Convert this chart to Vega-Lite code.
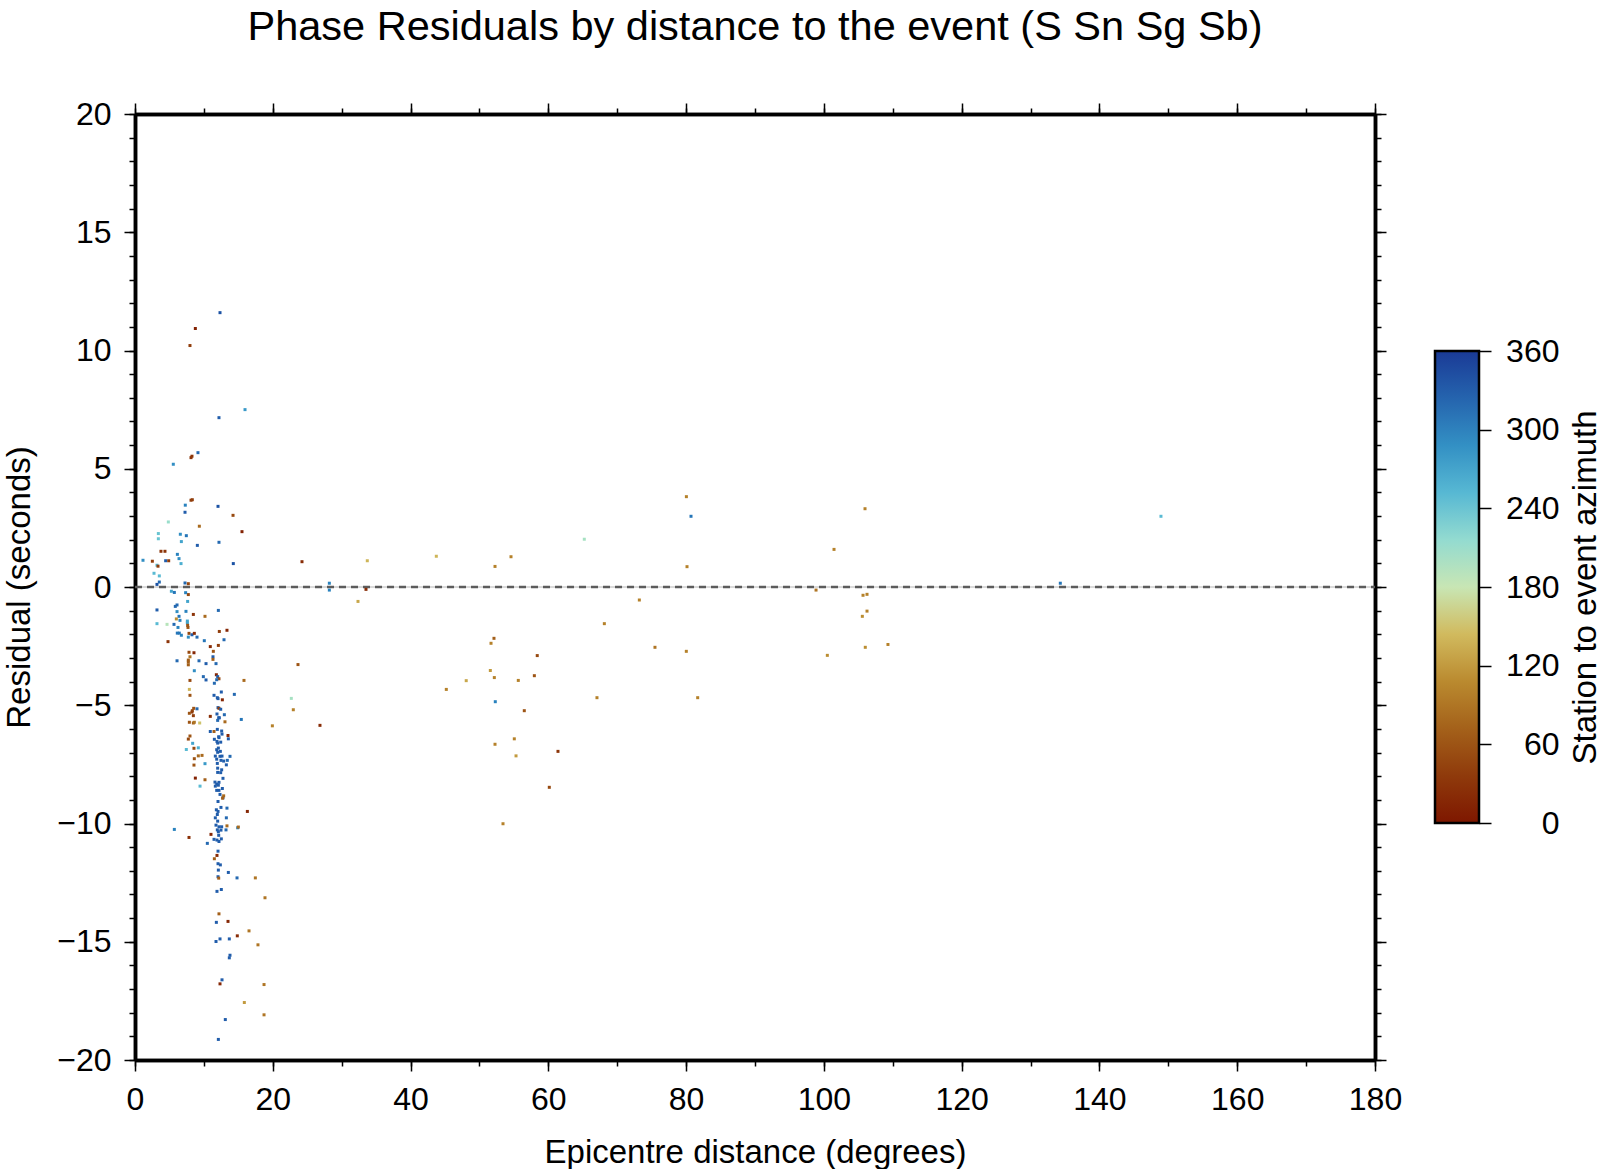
{
  "$schema": "https://vega.github.io/schema/vega-lite/v6.json",
  "background": "white",
  "padding": {"left": 3, "top": 6, "right": 0, "bottom": 0},
  "spacing": 31,
  "config": {
    "view": {"stroke": null},
    "font": "Liberation Sans",
    "axis": {
      "labelFont": "Liberation Sans",
      "titleFont": "Liberation Sans",
      "labelColor": "black",
      "titleColor": "black",
      "domainColor": "black",
      "tickColor": "black",
      "grid": false,
      "titleFontWeight": "normal",
      "labelFontSize": 32,
      "titleFontSize": 33,
      "tickWidth": 1.5,
      "domainWidth": 3.5,
      "labelOverlap": false,
      "labelFlush": false
    }
  },
  "hconcat": [
    {
      "width": 1240,
      "height": 946,
      "title": {"text": "Phase Residuals by distance to the event (S Sn Sg Sb)", "fontSize": 41.5, "fontWeight": "normal", "font": "Liberation Sans", "color": "black", "anchor": "middle", "offset": 50},
      "resolve": {"axis": {"x": "independent", "y": "independent"}},
      "layer": [
        {
          "data": {"values": [{}]},
          "mark": {"type": "rule", "color": "#b4b4b4", "strokeWidth": 1},
          "encoding": {
            "x": {"datum": 0, "type": "quantitative", "scale": {"domain": [0, 180], "nice": false, "zero": false},
              "axis": {"orient": "bottom", "values": [0,10,20,30,40,50,60,70,80,90,100,110,120,130,140,150,160,170,180], "tickSize": 6, "labels": false, "title": null}},
            "x2": {"datum": 180},
            "y": {"datum": 0, "type": "quantitative", "scale": {"domain": [-20, 20], "nice": false, "zero": false},
              "axis": {"orient": "left", "values": [-20,-19,-18,-17,-16,-15,-14,-13,-12,-11,-10,-9,-8,-7,-6,-5,-4,-3,-2,-1,0,1,2,3,4,5,6,7,8,9,10,11,12,13,14,15,16,17,18,19,20], "tickSize": 6, "labels": false, "title": null}}
          }
        },
        {
          "data": {"values": [{}]},
          "mark": {"type": "rule", "color": "#5c5c5c", "strokeWidth": 2.5, "strokeDash": [7, 5]},
          "encoding": {
            "x": {"datum": 0, "type": "quantitative",
              "axis": {"orient": "top", "values": [0,20,40,60,80,100,120,140,160,180], "tickSize": 11, "labels": false, "title": null}},
            "x2": {"datum": 180},
            "y": {"datum": 0, "type": "quantitative",
              "axis": {"orient": "right", "values": [-20,-15,-10,-5,0,5,10,15,20], "tickSize": 11, "labels": false, "title": null}}
          }
        },
        {
          "data": {"values": [{}]},
          "mark": {"type": "rule", "opacity": 0},
          "encoding": {
            "x": {"datum": 0, "type": "quantitative",
              "axis": {"orient": "top", "values": [0,10,20,30,40,50,60,70,80,90,100,110,120,130,140,150,160,170,180], "tickSize": 6, "labels": false, "title": null}},
            "x2": {"datum": 180},
            "y": {"datum": 0, "type": "quantitative",
              "axis": {"orient": "right", "values": [-20,-19,-18,-17,-16,-15,-14,-13,-12,-11,-10,-9,-8,-7,-6,-5,-4,-3,-2,-1,0,1,2,3,4,5,6,7,8,9,10,11,12,13,14,15,16,17,18,19,20], "tickSize": 6, "labels": false, "title": null}}
          }
        },
        {
          "data": {"values": [
            {"dist":12.34,"res":11.60,"az":340},{"dist":8.76,"res":10.93,"az":10},{"dist":7.98,"res":10.21,"az":40},{"dist":15.97,"res":7.50,"az":280},{"dist":12.19,"res":7.16,"az":330},{"dist":9.14,"res":5.68,"az":320},{"dist":8.13,"res":5.47,"az":30},{"dist":8.27,"res":5.53,"az":30},{"dist":5.56,"res":5.19,"az":290},{"dist":8.13,"res":3.67,"az":40},{"dist":8.32,"res":3.69,"az":40},{"dist":7.30,"res":3.46,"az":300},{"dist":7.26,"res":3.16,"az":330},{"dist":12.05,"res":3.41,"az":340},{"dist":14.23,"res":3.03,"az":50},{"dist":4.84,"res":2.75,"az":210},{"dist":9.34,"res":2.57,"az":80},{"dist":15.53,"res":2.34,"az":10},{"dist":3.39,"res":2.26,"az":240},{"dist":6.58,"res":2.23,"az":290},{"dist":7.45,"res":2.17,"az":310},{"dist":3.39,"res":2.04,"az":240},{"dist":6.73,"res":1.92,"az":270},{"dist":12.19,"res":1.89,"az":320},{"dist":9.05,"res":1.76,"az":330},{"dist":3.77,"res":1.51,"az":30},{"dist":4.35,"res":1.51,"az":30},{"dist":6.15,"res":1.38,"az":300},{"dist":1.16,"res":1.13,"az":290},{"dist":2.52,"res":1.09,"az":40},{"dist":4.45,"res":1.11,"az":330},{"dist":4.89,"res":1.11,"az":40},{"dist":6.39,"res":1.20,"az":290},{"dist":14.27,"res":0.99,"az":340},{"dist":3.19,"res":0.92,"az":250},{"dist":3.34,"res":0.88,"az":40},{"dist":6.68,"res":0.99,"az":260},{"dist":2.76,"res":0.58,"az":250},{"dist":3.53,"res":0.47,"az":250},{"dist":3.53,"res":0.21,"az":320},{"dist":3.19,"res":0.11,"az":340},{"dist":7.26,"res":0.17,"az":320},{"dist":7.74,"res":0.14,"az":50},{"dist":5.28,"res":-0.18,"az":270},{"dist":5.71,"res":-0.23,"az":310},{"dist":7.74,"res":-0.32,"az":50},{"dist":7.64,"res":-0.61,"az":270},{"dist":7.35,"res":-0.24,"az":300},
            {"dist":5.85,"res":-0.82,"az":320},{"dist":6.10,"res":-0.76,"az":320},{"dist":3.19,"res":-0.97,"az":330},{"dist":7.40,"res":-1.03,"az":300},{"dist":12.10,"res":-0.99,"az":320},{"dist":8.47,"res":-1.16,"az":30},{"dist":10.16,"res":-1.24,"az":80},{"dist":6.10,"res":-1.04,"az":290},{"dist":6.39,"res":-1.24,"az":310},{"dist":6.53,"res":-1.41,"az":300},{"dist":3.19,"res":-1.55,"az":250},{"dist":4.65,"res":-1.58,"az":190},{"dist":6.00,"res":-1.35,"az":110},{"dist":7.60,"res":-1.44,"az":270},{"dist":7.60,"res":-1.52,"az":270},{"dist":5.66,"res":-1.58,"az":320},{"dist":7.64,"res":-1.62,"az":60},{"dist":7.69,"res":-1.71,"az":60},{"dist":6.24,"res":-1.71,"az":300},{"dist":12.24,"res":-1.88,"az":40},{"dist":13.35,"res":-1.83,"az":15},{"dist":6.14,"res":-1.95,"az":310},{"dist":6.43,"res":-1.95,"az":310},{"dist":6.73,"res":-2.04,"az":300},{"dist":7.84,"res":-1.96,"az":50},{"dist":8.27,"res":-2.02,"az":330},{"dist":8.61,"res":-1.96,"az":20},{"dist":9.00,"res":-2.12,"az":320},{"dist":7.74,"res":-2.12,"az":290},{"dist":12.92,"res":-2.23,"az":320},{"dist":4.79,"res":-2.31,"az":30},{"dist":10.06,"res":-2.27,"az":310},{"dist":10.93,"res":-2.52,"az":20},{"dist":12.10,"res":-2.47,"az":40},{"dist":11.37,"res":-2.72,"az":60},{"dist":7.84,"res":-2.76,"az":50},{"dist":8.56,"res":-2.78,"az":15},{"dist":11.32,"res":-2.95,"az":330},{"dist":7.98,"res":-2.95,"az":90},{"dist":11.32,"res":-3.06,"az":70},{"dist":7.74,"res":-3.09,"az":70},{"dist":7.74,"res":-3.17,"az":70},{"dist":7.74,"res":-3.29,"az":70},{"dist":6.10,"res":-3.12,"az":320},{"dist":9.29,"res":-3.12,"az":320},{"dist":10.31,"res":-3.24,"az":330},{"dist":11.76,"res":-3.24,"az":320},{"dist":8.61,"res":-3.54,"az":290},{"dist":9.92,"res":-3.79,"az":320},{"dist":10.31,"res":-3.93,"az":330},{"dist":11.81,"res":-3.71,"az":15},{"dist":12.00,"res":-3.79,"az":330},{"dist":12.19,"res":-3.88,"az":50},{"dist":11.86,"res":-3.92,"az":320},{"dist":11.52,"res":-4.07,"az":320},{"dist":15.82,"res":-3.95,"az":80},{"dist":7.98,"res":-3.95,"az":50},{"dist":7.89,"res":-4.33,"az":140},{"dist":7.98,"res":-4.58,"az":60},{"dist":12.53,"res":-4.44,"az":330},{"dist":14.42,"res":-4.54,"az":320},{"dist":11.47,"res":-4.58,"az":330},{"dist":11.95,"res":-4.68,"az":330},{"dist":12.05,"res":-4.72,"az":330},{"dist":12.68,"res":-4.77,"az":15},{"dist":12.05,"res":-5.10,"az":330},{"dist":12.19,"res":-5.13,"az":40},{"dist":12.44,"res":-5.17,"az":330},{"dist":9.00,"res":-5.15,"az":320},{"dist":8.52,"res":-5.13,"az":60},{"dist":8.32,"res":-5.23,"az":50},{"dist":8.27,"res":-5.29,"az":40},{"dist":7.89,"res":-5.34,"az":60},{"dist":8.47,"res":-5.44,"az":40},{"dist":12.97,"res":-5.40,"az":320},{"dist":10.93,"res":-5.47,"az":25},{"dist":12.15,"res":-5.53,"az":330},{"dist":12.00,"res":-5.64,"az":320},{"dist":15.43,"res":-5.60,"az":310},{"dist":7.89,"res":-5.72,"az":60},{"dist":8.47,"res":-5.75,"az":70},{"dist":8.61,"res":-5.72,"az":90},{"dist":9.39,"res":-5.75,"az":150},{"dist":13.06,"res":-5.70,"az":80},{"dist":19.94,"res":-5.87,"az":100},{"dist":10.93,"res":-6.11,"az":330},{"dist":11.47,"res":-6.11,"az":70},{"dist":11.90,"res":-5.37,"az":330},{"dist":12.24,"res":-5.53,"az":330},
            {"dist":11.95,"res":-6.02,"az":330},{"dist":12.58,"res":-6.09,"az":330},{"dist":12.63,"res":-6.22,"az":330},{"dist":12.15,"res":-6.33,"az":330},{"dist":13.50,"res":-6.28,"az":15},{"dist":13.55,"res":-6.42,"az":330},{"dist":11.52,"res":-6.44,"az":330},{"dist":11.90,"res":-6.53,"az":330},{"dist":12.19,"res":-6.37,"az":330},{"dist":12.44,"res":-6.56,"az":330},{"dist":12.00,"res":-6.60,"az":330},{"dist":7.98,"res":-6.30,"az":60},{"dist":7.74,"res":-6.43,"az":50},{"dist":8.37,"res":-6.61,"az":270},{"dist":9.19,"res":-6.80,"az":260},{"dist":7.45,"res":-6.87,"az":250},{"dist":8.56,"res":-6.82,"az":50},{"dist":12.10,"res":-6.81,"az":330},{"dist":12.39,"res":-6.95,"az":330},{"dist":11.86,"res":-6.88,"az":330},{"dist":12.00,"res":-6.99,"az":330},{"dist":9.19,"res":-7.14,"az":80},{"dist":9.73,"res":-7.12,"az":80},{"dist":8.61,"res":-7.26,"az":60},{"dist":11.66,"res":-7.15,"az":330},{"dist":12.34,"res":-7.16,"az":330},{"dist":12.63,"res":-7.15,"az":330},{"dist":13.79,"res":-7.16,"az":320},{"dist":11.86,"res":-7.28,"az":330},{"dist":12.48,"res":-7.33,"az":330},{"dist":12.87,"res":-7.36,"az":330},{"dist":13.40,"res":-7.33,"az":320},{"dist":10.16,"res":-7.47,"az":280},{"dist":8.56,"res":-7.53,"az":60},{"dist":11.95,"res":-7.46,"az":330},{"dist":13.26,"res":-7.52,"az":330},{"dist":12.00,"res":-7.66,"az":330},{"dist":12.58,"res":-7.73,"az":330},{"dist":12.00,"res":-7.84,"az":330},{"dist":12.44,"res":-7.85,"az":330},{"dist":12.77,"res":-8.09,"az":330},{"dist":8.76,"res":-8.08,"az":10},{"dist":10.16,"res":-8.15,"az":70},{"dist":9.44,"res":-8.42,"az":250},{"dist":11.61,"res":-8.25,"az":330},{"dist":11.86,"res":-8.33,"az":330},{"dist":12.19,"res":-8.26,"az":330},{"dist":11.66,"res":-8.42,"az":330},{"dist":12.10,"res":-8.38,"az":330},{"dist":12.19,"res":-8.60,"az":330},{"dist":11.86,"res":-8.60,"az":330},{"dist":12.68,"res":-8.52,"az":330},{"dist":12.34,"res":-8.77,"az":330},{"dist":12.77,"res":-8.91,"az":330},{"dist":12.87,"res":-8.83,"az":80},{"dist":12.72,"res":-8.93,"az":70},
            {"dist":12.05,"res":-9.07,"az":330},{"dist":11.81,"res":-9.42,"az":330},{"dist":12.48,"res":-9.32,"az":330},{"dist":13.35,"res":-9.35,"az":320},{"dist":12.05,"res":-9.49,"az":330},{"dist":11.95,"res":-9.62,"az":330},{"dist":16.31,"res":-9.49,"az":15},{"dist":11.66,"res":-9.76,"az":330},{"dist":13.26,"res":-9.76,"az":320},{"dist":12.00,"res":-9.90,"az":330},{"dist":11.76,"res":-10.07,"az":330},{"dist":12.19,"res":-10.14,"az":330},{"dist":12.58,"res":-10.14,"az":330},{"dist":11.95,"res":-10.27,"az":330},{"dist":13.21,"res":-10.27,"az":320},{"dist":12.10,"res":-10.35,"az":330},{"dist":12.48,"res":-10.28,"az":330},{"dist":13.35,"res":-10.10,"az":80},{"dist":14.91,"res":-10.18,"az":300},{"dist":15.00,"res":-10.15,"az":80},{"dist":5.71,"res":-10.25,"az":300},{"dist":7.84,"res":-10.59,"az":25},{"dist":11.03,"res":-10.46,"az":15},{"dist":10.50,"res":-10.84,"az":320},{"dist":11.47,"res":-10.67,"az":330},{"dist":11.90,"res":-10.70,"az":330},{"dist":12.19,"res":-10.76,"az":330},{"dist":12.53,"res":-10.65,"az":330},{"dist":12.15,"res":-10.50,"az":330},{"dist":12.05,"res":-11.17,"az":330},{"dist":11.90,"res":-11.35,"az":20},{"dist":11.52,"res":-11.49,"az":70},{"dist":12.05,"res":-11.70,"az":330},{"dist":12.39,"res":-11.75,"az":330},{"dist":13.55,"res":-12.07,"az":330},{"dist":12.10,"res":-11.97,"az":330},{"dist":12.05,"res":-12.25,"az":330},{"dist":12.15,"res":-12.31,"az":70},{"dist":14.81,"res":-12.30,"az":320},{"dist":17.47,"res":-12.30,"az":90},{"dist":18.87,"res":-13.14,"az":90},{"dist":12.53,"res":-12.79,"az":330},{"dist":11.90,"res":-12.87,"az":330},{"dist":12.19,"res":-13.82,"az":70},{"dist":13.50,"res":-14.14,"az":15},{"dist":11.81,"res":-14.18,"az":330},{"dist":16.55,"res":-14.54,"az":90},{"dist":14.85,"res":-14.75,"az":20},{"dist":12.34,"res":-14.88,"az":330},{"dist":13.69,"res":-14.88,"az":330},{"dist":11.76,"res":-14.99,"az":330},{"dist":17.85,"res":-15.13,"az":90},{"dist":13.79,"res":-15.57,"az":330},{"dist":13.69,"res":-15.68,"az":330},{"dist":12.63,"res":-16.61,"az":330},{"dist":12.34,"res":-16.78,"az":15},{"dist":18.73,"res":-16.81,"az":90},{"dist":15.87,"res":-17.57,"az":120},{"dist":18.73,"res":-18.09,"az":90},{"dist":13.11,"res":-18.29,"az":330},{"dist":12.10,"res":-19.13,"az":330},
            {"dist":24.24,"res":1.07,"az":20},{"dist":33.72,"res":1.11,"az":140},{"dist":43.74,"res":1.30,"az":140},{"dist":52.26,"res":0.87,"az":100},{"dist":54.58,"res":1.28,"az":100},{"dist":65.22,"res":2.02,"az":200},{"dist":80.04,"res":3.82,"az":100},{"dist":80.71,"res":2.99,"az":310},{"dist":80.13,"res":0.86,"az":100},{"dist":28.21,"res":0.16,"az":300},{"dist":28.21,"res":-0.13,"az":300},{"dist":33.53,"res":-0.10,"az":20},{"dist":32.37,"res":-0.61,"az":130},{"dist":73.21,"res":-0.55,"az":100},{"dist":68.13,"res":-1.55,"az":100},{"dist":52.11,"res":-2.17,"az":70},{"dist":51.68,"res":-2.38,"az":100},{"dist":75.48,"res":-2.55,"az":90},{"dist":80.03,"res":-2.72,"az":100},{"dist":58.39,"res":-2.90,"az":50},{"dist":23.66,"res":-3.28,"az":60},{"dist":51.58,"res":-3.53,"az":120},{"dist":52.16,"res":-3.83,"az":100},{"dist":55.64,"res":-3.95,"az":100},{"dist":57.97,"res":-3.75,"az":60},{"dist":48.08,"res":-3.96,"az":130},{"dist":45.19,"res":-4.33,"az":100},{"dist":22.69,"res":-4.71,"az":200},{"dist":22.98,"res":-5.19,"az":100},{"dist":52.30,"res":-4.85,"az":300},{"dist":56.51,"res":-5.23,"az":60},{"dist":67.06,"res":-4.68,"az":100},{"dist":81.68,"res":-4.68,"az":100},{"dist":26.85,"res":-5.85,"az":20},{"dist":55.06,"res":-6.42,"az":100},{"dist":52.26,"res":-6.65,"az":100},{"dist":55.31,"res":-7.14,"az":120},{"dist":61.40,"res":-6.95,"az":30},{"dist":60.14,"res":-8.47,"az":50},{"dist":53.42,"res":-10.01,"az":100},
            {"dist":105.97,"res":3.31,"az":100},{"dist":101.47,"res":1.59,"az":100},{"dist":98.86,"res":-0.13,"az":90},{"dist":105.68,"res":-0.35,"az":100},{"dist":106.26,"res":-0.31,"az":100},{"dist":106.26,"res":-1.02,"az":100},{"dist":105.58,"res":-1.24,"az":110},{"dist":109.30,"res":-2.43,"az":100},{"dist":106.01,"res":-2.55,"az":110},{"dist":100.50,"res":-2.89,"az":110},{"dist":134.32,"res":0.16,"az":310},{"dist":148.93,"res":2.99,"az":250}
          ]},
          "mark": {"type": "square", "size": 9, "opacity": 1, "filled": true},
          "encoding": {
            "x": {"field": "dist", "type": "quantitative",
              "axis": {"orient": "bottom", "values": [0,20,40,60,80,100,120,140,160,180], "tickSize": 11, "labelPadding": 13, "title": "Epicentre distance (degrees)", "titlePadding": 21}},
            "y": {"field": "res", "type": "quantitative",
              "axis": {"orient": "left", "values": [-20,-15,-10,-5,0,5,10,15,20], "tickSize": 11, "labelPadding": 13, "format": "d", "title": "Residual (seconds)", "titlePadding": 20}},
            "color": {"field": "az", "type": "quantitative", "legend": null,
              "scale": {"domain": [0,36,72,108,144,180,216,252,288,324,360],
                "range": ["#7E1700","#8F3A0B","#A4611A","#BA8A2F","#D1BA5E","#C8E6B4","#93DBD0","#57B8D3","#3390C4","#2564AE","#1A3A96"]}}
          }
        }
      ]
    },
    {
      "width": 44,
      "height": 709,
      "data": {"values": [{"lo": 0, "hi": 360}]},
      "mark": {"type": "rect", "stroke": "black", "strokeWidth": 2.5,
        "fill": {"gradient": "linear", "x1": 0, "y1": 1, "x2": 0, "y2": 0,
          "stops": [
            {"offset": 0, "color": "#7E1700"},{"offset": 0.1, "color": "#8F3A0B"},{"offset": 0.2, "color": "#A4611A"},{"offset": 0.3, "color": "#BA8A2F"},{"offset": 0.4, "color": "#D1BA5E"},{"offset": 0.5, "color": "#C8E6B4"},{"offset": 0.6, "color": "#93DBD0"},{"offset": 0.7, "color": "#57B8D3"},{"offset": 0.8, "color": "#3390C4"},{"offset": 0.9, "color": "#2564AE"},{"offset": 1, "color": "#1A3A96"}
          ]}},
      "encoding": {
        "y": {"field": "lo", "type": "quantitative",
          "scale": {"domain": [0, 360], "range": [709, 237], "nice": false, "zero": false},
          "axis": {"orient": "right", "values": [0,60,120,180,240,300,360], "tickSize": 12, "labelPadding": 68, "labelAlign": "right", "domain": false,
            "title": "Station to event azimuth", "titleAngle": 270, "titleBaseline": "top", "titlePadding": 10}},
        "y2": {"field": "hi"}
      }
    }
  ]
}
